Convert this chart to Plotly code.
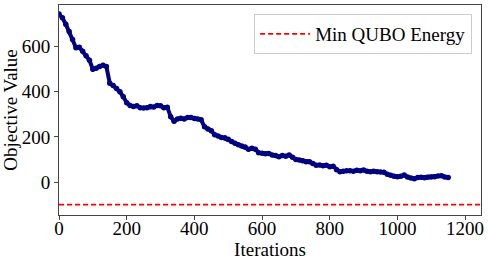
import plotly.graph_objects as go

iterations = list(range(0, 1160, 10))
objective = [745, 728, 700, 668, 632, 596, 598, 580, 560, 540,
             500, 505, 512, 518, 512, 438, 428, 415, 400, 378,
             352, 340, 335, 338, 330, 328, 330, 335, 333, 340,
             338, 330, 332, 290, 270, 280, 283, 280, 286, 286,
             282, 280, 276, 245, 235, 228, 210, 204, 198, 196,
             190, 180, 172, 165, 160, 155, 145, 150, 146, 130,
             128, 126, 127, 120, 118, 112, 118, 115, 120, 110,
             100, 98, 95, 90, 90, 82, 75, 76, 72, 75,
             68, 70, 55, 46, 48, 50, 50, 48, 52, 50,
             53, 48, 46, 48, 46, 45, 44, 35, 30, 26,
             24, 26, 31, 22, 18, 15, 20, 21, 19, 21,
             22, 24, 27, 28, 23, 20]
min_qubo_energy = -100
x_ticks = [0, 200, 400, 600, 800, 1000, 1200]
y_ticks = [0, 200, 400, 600]

FONT = "Liberation Serif"
FS = 19
x_range = [0, 1247]
y_range = [-146, 785]

fig = go.Figure()
fig.add_trace(go.Scatter(
    x=iterations, y=objective, mode="lines+markers",
    line=dict(color="#000080", width=4),
    marker=dict(color="#000080", size=5.5),
    showlegend=False,
))
fig.add_hline(y=min_qubo_energy, line=dict(color="red", width=1.6, dash="5px,3px"))
fig.add_trace(go.Scatter(
    x=[None], y=[None], mode="lines", name="Min QUBO Energy",
    line=dict(color="red", width=1.6, dash="5px,3px"),
))

axis_common = dict(
    showline=True, linecolor="#444", linewidth=1, mirror=True,
    ticks="outside", ticklen=4, tickcolor="#444", showgrid=False,
    zeroline=False, automargin=False,
    tickfont=dict(family=FONT, size=FS, color="black"),
)
fig.update_xaxes(range=x_range, tickvals=x_ticks, ticklabelstandoff=-8,
                 title=dict(text="Iterations", font=dict(family=FONT, size=FS, color="black"), standoff=0),
                 **axis_common)
fig.update_yaxes(range=y_range, tickvals=y_ticks,
                 title=dict(text="Objective Value", font=dict(family=FONT, size=FS, color="black"), standoff=4),
                 **axis_common)

fig.update_layout(
    width=489, height=263,
    margin=dict(l=59, r=8, t=5, b=48, autoexpand=False),
    plot_bgcolor="white", paper_bgcolor="white",
    font=dict(family=FONT, size=FS, color="black"),
    legend=dict(x=0.979, y=0.957, xanchor="right", yanchor="top",
                bgcolor="white", bordercolor="#ccc", borderwidth=1,
                itemwidth=50,
                font=dict(family=FONT, size=FS, color="black")),
)

fig.write_html("out.html", config={"displayModeBar": False},
               post_script="document.body.style.margin='0';")
